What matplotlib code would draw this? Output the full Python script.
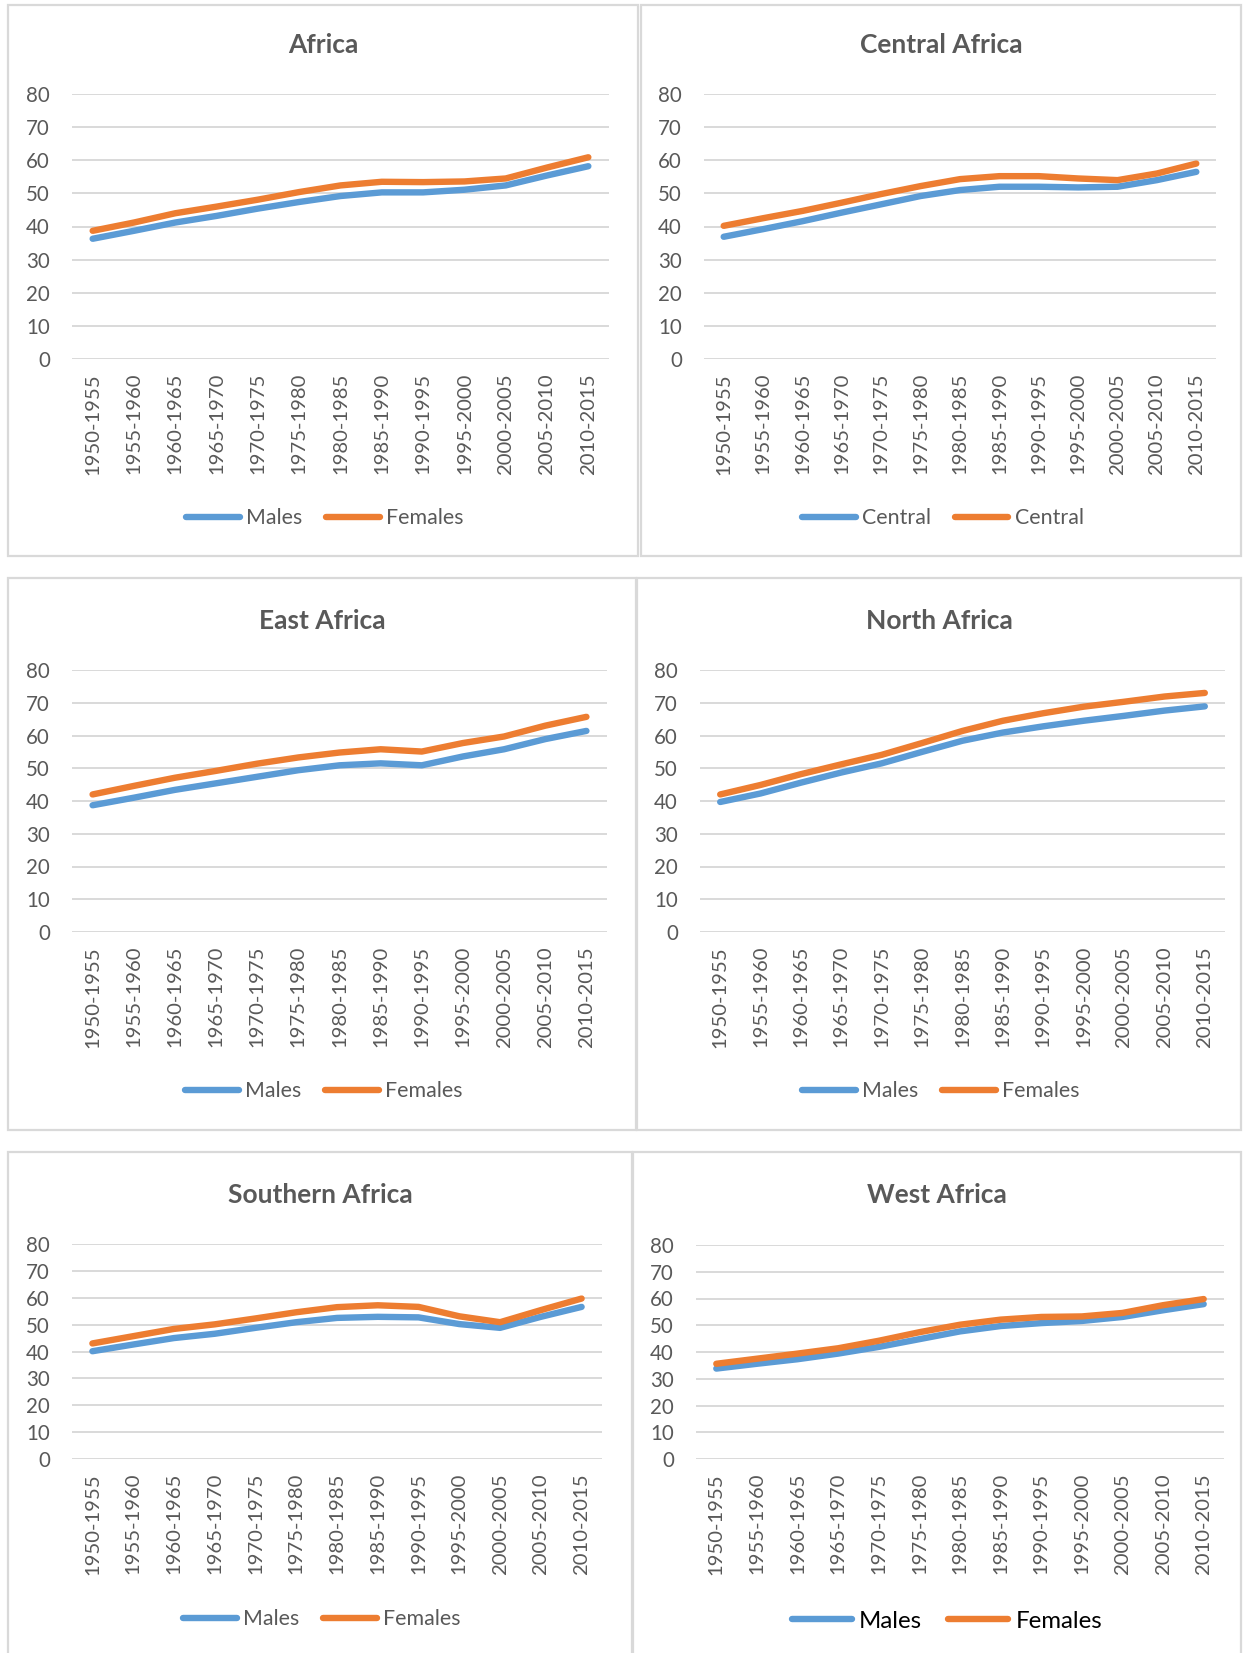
import matplotlib
matplotlib.use("Agg")
import matplotlib.pyplot as plt
from matplotlib.patches import Rectangle

plt.rcParams['font.family'] = ['Lato', 'DejaVu Sans']

periods = ['1950-1955', '1955-1960', '1960-1965', '1965-1970', '1970-1975',
           '1975-1980', '1980-1985', '1985-1990', '1990-1995', '1995-2000',
           '2000-2005', '2005-2010', '2010-2015']

africa_m = [36.3, 38.7, 41.2, 43.2, 45.4, 47.4, 49.2, 50.3, 50.3, 51.1, 52.4, 55.4, 58.2]
africa_f = [38.7, 41.2, 44.0, 46.0, 48.1, 50.4, 52.4, 53.5, 53.4, 53.6, 54.5, 57.8, 60.9]

central_m = [36.9, 39.2, 41.6, 44.2, 46.7, 49.2, 51.0, 52.0, 52.0, 51.8, 52.0, 54.0, 56.5]
central_f = [40.2, 42.5, 44.7, 47.2, 49.8, 52.2, 54.3, 55.2, 55.2, 54.5, 54.0, 56.0, 59.0]

east_m = [38.7, 41.0, 43.4, 45.4, 47.4, 49.4, 50.9, 51.5, 50.9, 53.6, 55.8, 58.9, 61.4]
east_f = [42.0, 44.6, 47.1, 49.2, 51.4, 53.3, 54.8, 55.8, 55.1, 57.7, 59.7, 63.0, 65.7]

north_m = [39.7, 42.3, 45.6, 48.7, 51.5, 55.0, 58.4, 60.9, 62.8, 64.5, 66.0, 67.6, 68.9]
north_f = [42.0, 44.9, 48.2, 51.2, 54.1, 57.7, 61.4, 64.5, 66.8, 68.8, 70.3, 71.9, 73.0]

south_m = [40.1, 42.6, 45.0, 46.6, 48.8, 50.9, 52.5, 52.9, 52.7, 50.2, 48.8, 52.9, 56.6]
south_f = [43.0, 45.7, 48.4, 50.1, 52.3, 54.6, 56.5, 57.2, 56.6, 53.1, 50.9, 55.4, 59.7]

west_m = [33.8, 35.6, 37.3, 39.4, 41.9, 44.8, 47.7, 49.7, 50.8, 51.6, 53.1, 55.6, 57.9]
west_f = [35.6, 37.5, 39.4, 41.4, 44.2, 47.4, 50.2, 52.1, 53.1, 53.3, 54.6, 57.5, 59.8]

W, H = 1243, 1653
fig = plt.figure(figsize=(W / 100, H / 100), dpi=100)

BLUE = '#5B9BD5'
ORANGE = '#ED7D31'
GREY = '#595959'
GRID = '#D9D9D9'


def frac(x0, y0, x1, y1):
    return [x0 / W, 1 - y1 / H, (x1 - x0) / W, (y1 - y0) / H]


# caption above the panels, cut off at the top edge like in the source
fig.text(-12 / W, 1 + 4 / H, 'Figure 5: Life expectancy at birth by sex, Africa and its sub-regions',
         fontsize=15, fontweight='bold', color='black', ha='left', va='baseline')

# box, axes, title y, legend y, title, data, legend labels, legend size/colour, legend x shift
panels = [
    ((8, 5, 638, 556), (72, 94, 609, 359), 45, 518, 'Africa', africa_m, africa_f,
     ('Males', 'Females'), 15.4, GREY, 2),
    ((641, 5, 1241, 556), (704, 94, 1216, 359), 45, 518, 'Central Africa', central_m, central_f,
     ('Central', 'Central'), 15.4, GREY, 2),
    ((8, 578, 636, 1130), (72, 670, 607, 932), 621, 1091, 'East Africa', east_m, east_f,
     ('Males', 'Females'), 15.4, GREY, 2),
    ((637, 578, 1241, 1130), (700, 670, 1225, 932), 621, 1091, 'North Africa', north_m, north_f,
     ('Males', 'Females'), 15.4, GREY, 2),
    ((8, 1152, 632, 1670), (72, 1244, 602, 1459), 1195, 1619, 'Southern Africa', south_m, south_f,
     ('Males', 'Females'), 15.4, GREY, 2),
    ((633, 1152, 1241, 1670), (696, 1245, 1224, 1459), 1195, 1621, 'West Africa', west_m, west_f,
     ('Males', 'Females'), 17.3, 'black', 10),
]

for box, axr, ty, ly, title, males, females, labels, lsize, lcol, lshift in panels:
    bx0, by0, bx1, by1 = box
    fig.patches.append(Rectangle((bx0 / W, 1 - by1 / H), (bx1 - bx0) / W, (by1 - by0) / H,
                                 transform=fig.transFigure, fill=False,
                                 edgecolor=GRID, linewidth=1.6))
    ax = fig.add_axes(frac(*axr))
    x = range(len(periods))
    l1, = ax.plot(x, males, color=BLUE, lw=4.6, solid_capstyle='round', label=labels[0], zorder=3)
    l2, = ax.plot(x, females, color=ORANGE, lw=4.6, solid_capstyle='round', label=labels[1], zorder=3)
    ax.set_xlim(-0.5, len(periods) - 0.5)
    ax.set_ylim(0, 80)
    ax.set_yticks(range(0, 81, 10))
    ax.set_xticks(list(x))
    ax.set_xticklabels(periods, rotation=90, fontsize=14.6, color=GREY)
    for sp in ax.spines.values():
        sp.set_visible(False)
    ax.tick_params(axis='y', length=0, pad=16, labelsize=14.8, labelcolor=GREY)
    ax.tick_params(axis='x', length=0, pad=10)
    ax.grid(axis='y', color=GRID, lw=1.4)
    ax.set_axisbelow(True)
    fig.text((bx0 + bx1) / 2 / W, 1 - ty / H, title, ha='center', va='center',
             fontsize=19, fontweight='bold', color=GREY)
    leg = fig.legend(handles=[l1, l2], loc='center', ncol=2,
                     bbox_to_anchor=((bx0 + bx1) / 2 / W + lshift / W, 1 - ly / H),
                     frameon=False, fontsize=lsize, handlelength=2.5,
                     handletextpad=0.3, columnspacing=1.1, borderpad=0)
    for t in leg.get_texts():
        t.set_color(lcol)

fig.savefig('out.png', dpi=100)
